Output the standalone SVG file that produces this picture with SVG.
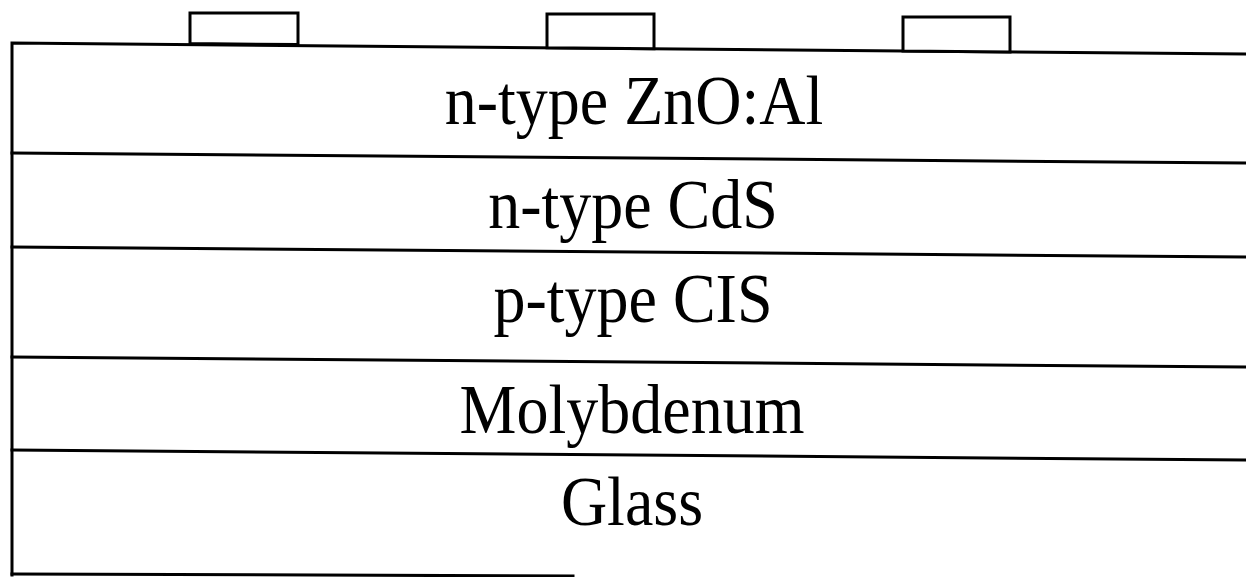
<svg xmlns="http://www.w3.org/2000/svg" width="1246" height="577" viewBox="0 0 1246 577">
<style>
.ln{stroke:#000;stroke-width:3;fill:none;stroke-linecap:square}
.ct{stroke:#000;stroke-width:3;fill:#fff;stroke-linejoin:miter}
.lbl{font-family:"Liberation Serif","Times New Roman",serif;font-size:64px;fill:#000;text-anchor:middle}
</style>
<rect width="1246" height="577" fill="#fff"/>
<g id="layers">
<polyline class="ln" points="12,575 12,43 1246,54"/>
<line class="ln" x1="12" y1="153" x2="1246" y2="163"/>
<line class="ln" x1="12" y1="247" x2="1246" y2="257"/>
<line class="ln" x1="12" y1="357" x2="1246" y2="367"/>
<line class="ln" x1="12" y1="450" x2="1246" y2="460"/>
<line class="ln" x1="12" y1="574" x2="573" y2="576"/>
</g>
<g id="contact1"><polygon class="ct" points="190,13 298,13 298,44.5 190,43.6"/></g>
<g id="contact2"><polygon class="ct" points="547,14 654,14 654,48.7 547,47.8"/></g>
<g id="contact3"><polygon class="ct" points="903,17 1010,17 1010,52 903,51"/></g>
<g id="zno"><text class="lbl" transform="translate(634,124) scale(1,1.08)">n-type ZnO:Al</text></g>
<g id="cds"><text class="lbl" transform="translate(633,228) scale(1,1.08)">n-type CdS</text></g>
<g id="cis"><text class="lbl" transform="translate(633,322) scale(1,1.08)">p-type CIS</text></g>
<g id="mo"><text class="lbl" transform="translate(632,433) scale(1,1.08)">Molybdenum</text></g>
<g id="glass"><text class="lbl" transform="translate(632,525) scale(1,1.08)">Glass</text></g>
</svg>
